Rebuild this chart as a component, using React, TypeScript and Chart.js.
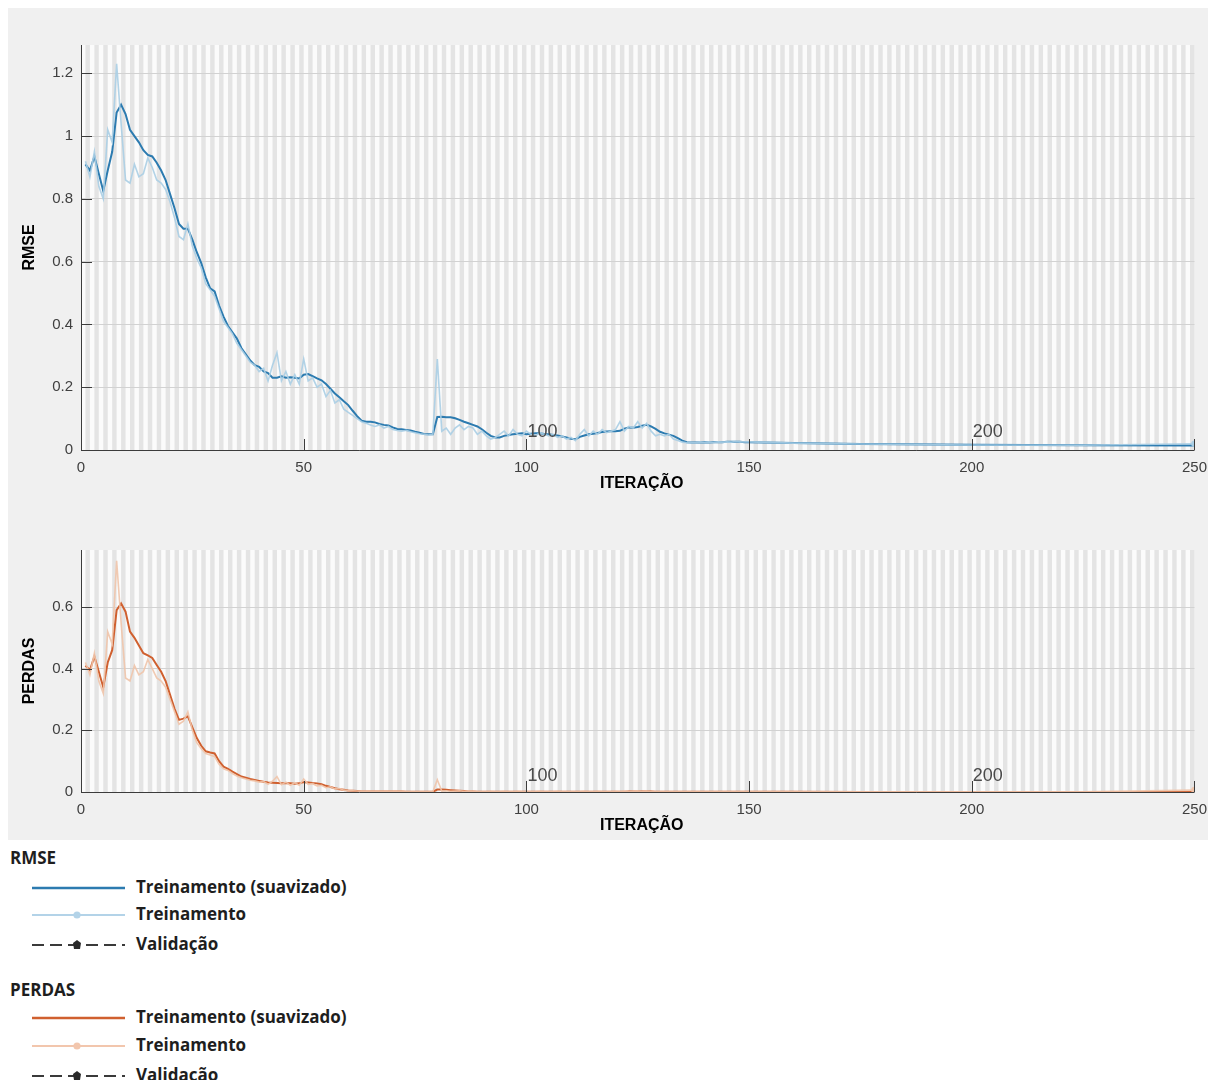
import { useEffect, useRef } from "react";
import { Chart, registerables } from "chart.js";

Chart.register(...registerables);

// Iterations sampled densely for 1..150, then sparsely along the flat tail.
const denseIterations = Array.from({ length: 150 }, (_, k) => k + 1);
const tailIterations = [160, 175, 200, 225, 250];
const iterations = [...denseIterations, ...tailIterations];

const xTicks = [0, 50, 100, 150, 200, 250];
const epochMarks = [100, 200];

const rmseTicks = [0, 0.2, 0.4, 0.6, 0.8, 1, 1.2];
const rmseTickLabels = ["0", "0.2", "0.4", "0.6", "0.8", "1", "1.2"];
const lossTicks = [0, 0.2, 0.4, 0.6];
const lossTickLabels = ["0", "0.2", "0.4", "0.6"];

// RMSE – smoothed training curve
const rmseSmoothed = [
  0.91, 0.89, 0.935, 0.88, 0.825, 0.89, 0.95, 1.075, 1.1, 1.07,
  1.02, 1.0, 0.98, 0.955, 0.94, 0.935, 0.915, 0.89, 0.86, 0.815,
  0.77, 0.72, 0.705, 0.705, 0.67, 0.63, 0.595, 0.55, 0.515, 0.505,
  0.46, 0.425, 0.395, 0.375, 0.355, 0.325, 0.305, 0.285, 0.27, 0.265,
  0.25, 0.245, 0.23, 0.23, 0.235, 0.23, 0.232, 0.23, 0.228, 0.24,
  0.242, 0.235, 0.228, 0.222, 0.21, 0.195, 0.18, 0.168, 0.155, 0.143,
  0.125, 0.108, 0.093, 0.09, 0.09, 0.088, 0.083, 0.08, 0.078, 0.072,
  0.067, 0.066, 0.064, 0.062, 0.058, 0.055, 0.051, 0.05, 0.05, 0.105,
  0.106, 0.104, 0.104, 0.101, 0.096, 0.09, 0.085, 0.08, 0.075, 0.066,
  0.055, 0.045, 0.04, 0.04, 0.045, 0.048, 0.05, 0.052, 0.053, 0.05,
  0.052, 0.053, 0.053, 0.051, 0.05, 0.048, 0.046, 0.043, 0.04, 0.036,
  0.034, 0.042, 0.046, 0.05, 0.052, 0.054, 0.057, 0.059, 0.06, 0.06,
  0.061, 0.068, 0.072, 0.071, 0.073, 0.077, 0.08, 0.075, 0.067, 0.058,
  0.053, 0.049, 0.045, 0.038, 0.03, 0.025, 0.024, 0.024, 0.024, 0.025,
  0.024, 0.025, 0.025, 0.025, 0.026, 0.026, 0.026, 0.026, 0.025, 0.025,
  0.022, 0.019, 0.017, 0.015, 0.014,
];

// RMSE – raw training values
const rmseRaw = [
  0.92, 0.87, 0.95, 0.84, 0.8, 1.02, 0.98, 1.23, 1.04, 0.86,
  0.85, 0.91, 0.87, 0.88, 0.93, 0.9, 0.86, 0.85, 0.83, 0.79,
  0.74, 0.68, 0.67, 0.72, 0.65, 0.61, 0.58, 0.53, 0.51, 0.49,
  0.45, 0.41, 0.39, 0.37, 0.34, 0.32, 0.3, 0.28, 0.27, 0.25,
  0.26, 0.22, 0.27, 0.31, 0.22, 0.25, 0.21, 0.24, 0.21, 0.29,
  0.22, 0.23, 0.2, 0.21, 0.17, 0.19, 0.15, 0.16, 0.13, 0.12,
  0.11, 0.1, 0.09, 0.085, 0.08, 0.075, 0.08, 0.07, 0.075, 0.065,
  0.062, 0.06, 0.063, 0.058, 0.055, 0.052, 0.05, 0.048, 0.05, 0.29,
  0.06, 0.07, 0.05, 0.07, 0.08, 0.065, 0.075, 0.07, 0.05, 0.06,
  0.045, 0.035, 0.04, 0.05, 0.06, 0.045, 0.065, 0.05, 0.045, 0.06,
  0.05, 0.045, 0.055, 0.05, 0.045, 0.05, 0.04, 0.045, 0.035, 0.04,
  0.03, 0.05, 0.065, 0.045, 0.06, 0.05, 0.065, 0.055, 0.06, 0.065,
  0.09, 0.06, 0.075, 0.07, 0.09, 0.07, 0.085, 0.06, 0.045, 0.05,
  0.045, 0.05, 0.035, 0.03, 0.025, 0.023, 0.024, 0.023, 0.025, 0.024,
  0.025, 0.024, 0.026, 0.025, 0.026, 0.025, 0.027, 0.026, 0.026, 0.026,
  0.022, 0.019, 0.016, 0.015, 0.02,
];

// Loss – smoothed training curve
const lossSmoothed = [
  0.41, 0.395, 0.44, 0.39, 0.34, 0.42, 0.46, 0.59, 0.612, 0.585,
  0.52, 0.5, 0.475, 0.45, 0.443, 0.435, 0.412, 0.39, 0.36, 0.315,
  0.27, 0.234, 0.238, 0.245, 0.21, 0.175, 0.15, 0.132, 0.128, 0.125,
  0.1, 0.082, 0.075, 0.066, 0.058, 0.05, 0.046, 0.042, 0.039, 0.036,
  0.033, 0.031, 0.03, 0.029, 0.028, 0.028, 0.028, 0.027, 0.028, 0.032,
  0.031, 0.029, 0.028, 0.025, 0.02, 0.016, 0.012, 0.009, 0.007, 0.005,
  0.004, 0.003, 0.002, 0.002, 0.002, 0.002, 0.002, 0.002, 0.002, 0.002,
  0.002, 0.002, 0.001, 0.001, 0.001, 0.001, 0.001, 0.001, 0.001, 0.008,
  0.008, 0.007, 0.006, 0.005, 0.004, 0.003, 0.002, 0.002, 0.001, 0.001,
  0.001, 0.001, 0.001, 0.001, 0.001, 0.001, 0.001, 0.001, 0.001, 0.001,
  0.001, 0.001, 0.001, 0.001, 0.001, 0.001, 0.001, 0.001, 0.001, 0.001,
  0.001, 0.001, 0.001, 0.001, 0.001, 0.001, 0.001, 0.001, 0.001, 0.001,
  0.001, 0.001, 0.002, 0.002, 0.002, 0.002, 0.002, 0.002, 0.001, 0.001,
  0.001, 0.001, 0.001, 0.001, 0.0008, 0.0006, 0.0005, 0.0005, 0.0005, 0.0005,
  0.0005, 0.0005, 0.0005, 0.0005, 0.0005, 0.0005, 0.0005, 0.0005, 0.0005, 0.0005,
  0.0005, 0.0004, 0.0004, 0.0003, 0.0003,
];

// Loss – raw training values
const lossRaw = [
  0.42, 0.38, 0.45, 0.36, 0.32, 0.52, 0.48, 0.75, 0.55, 0.37,
  0.36, 0.41, 0.38, 0.39, 0.43, 0.4, 0.37, 0.36, 0.34, 0.3,
  0.26, 0.22, 0.23, 0.26, 0.2, 0.16, 0.14, 0.125, 0.12, 0.115,
  0.09, 0.075, 0.07, 0.06, 0.052, 0.046, 0.042, 0.038, 0.036, 0.032,
  0.034, 0.025, 0.035, 0.05, 0.024, 0.032, 0.022, 0.03, 0.022, 0.042,
  0.025, 0.027, 0.02, 0.022, 0.014, 0.017, 0.01, 0.011, 0.006, 0.005,
  0.004, 0.003, 0.002, 0.002, 0.002, 0.002, 0.002, 0.002, 0.002, 0.002,
  0.002, 0.002, 0.001, 0.001, 0.001, 0.001, 0.001, 0.001, 0.001, 0.04,
  0.003, 0.004, 0.002, 0.003, 0.004, 0.002, 0.003, 0.002, 0.001, 0.001,
  0.001, 0.002, 0.001, 0.001, 0.002, 0.001, 0.001, 0.002, 0.001, 0.001,
  0.001, 0.001, 0.002, 0.001, 0.001, 0.001, 0.002, 0.001, 0.001, 0.001,
  0.001, 0.001, 0.002, 0.001, 0.001, 0.002, 0.001, 0.001, 0.001, 0.002,
  0.001, 0.003, 0.001, 0.002, 0.003, 0.001, 0.002, 0.001, 0.001, 0.001,
  0.001, 0.001, 0.001, 0.001, 0.0008, 0.0006, 0.0005, 0.0005, 0.0005, 0.0005,
  0.0005, 0.0005, 0.0005, 0.0005, 0.0005, 0.0005, 0.0005, 0.0005, 0.0005, 0.0005,
  0.0005, 0.0004, 0.0004, 0.0003, 0.006,
];

const TICK_FONT = { family: "'Liberation Sans', Arial, sans-serif", size: 15 };
const TITLE_FONT = "bold 16px 'Liberation Sans', Arial, sans-serif";
const EPOCH_FONT = "18px 'Liberation Sans', Arial, sans-serif";

type PlotProps = {
  smoothed: number[];
  raw: number[];
  smoothColor: string;
  rawColor: string;
  yMax: number;
  yTicks: number[];
  yTickLabels: string[];
  yTitle: string;
  height: number;
  padTop: number;
  axisHeight: number;
  epochLabelLift: number;
};

// Alternating iteration shading, inward ticks, axis lines and titles.
const decorPlugin = {
  id: "decor",
  beforeDraw(chart: any) {
    const { ctx, chartArea: a, scales } = chart;
    const x = scales.x;
    ctx.save();
    ctx.fillStyle = "#fbfbfb";
    ctx.fillRect(a.left, a.top, a.right - a.left, a.bottom - a.top);
    ctx.fillStyle = "#e4e4e4";
    for (let i = 1; i < x.max; i += 2) {
      const l = x.getPixelForValue(i);
      const r = x.getPixelForValue(i + 1);
      ctx.fillRect(l, a.top, r - l, a.bottom - a.top);
    }
    ctx.restore();
  },
  afterDraw(chart: any, _args: any, opts: any) {
    const { ctx, chartArea: a, scales } = chart;
    const x = scales.x;
    const y = scales.y;
    ctx.save();
    // axis lines
    ctx.strokeStyle = "#3c3c3c";
    ctx.lineWidth = 1;
    ctx.beginPath();
    ctx.moveTo(a.left + 0.5, a.top);
    ctx.lineTo(a.left + 0.5, a.bottom + 0.5);
    ctx.lineTo(a.right, a.bottom + 0.5);
    ctx.stroke();
    // inward tick marks
    ctx.beginPath();
    for (const v of xTicks) {
      const px = Math.round(x.getPixelForValue(v)) + 0.5;
      ctx.moveTo(px, a.bottom);
      ctx.lineTo(px, a.bottom - 11);
    }
    for (const v of opts.yTicks) {
      const py = Math.round(y.getPixelForValue(v)) + 0.5;
      ctx.moveTo(a.left, py);
      ctx.lineTo(a.left + 11, py);
    }
    ctx.stroke();
    // epoch labels
    ctx.fillStyle = "#4a4a4a";
    ctx.font = EPOCH_FONT;
    ctx.textAlign = "left";
    ctx.textBaseline = "alphabetic";
    for (const v of epochMarks) {
      ctx.fillText(String(v), x.getPixelForValue(v) + 1, a.bottom - opts.epochLabelLift);
    }
    // axis titles
    ctx.fillStyle = "#000";
    ctx.font = TITLE_FONT;
    ctx.textAlign = "center";
    ctx.textBaseline = "middle";
    ctx.fillText("ITERAÇÃO", (a.left + a.right) / 2 + 4, a.bottom + 34);
    ctx.translate(22, (a.top + a.bottom) / 2);
    ctx.rotate(-Math.PI / 2);
    ctx.fillText(opts.yTitle, 0, 0);
    ctx.restore();
  },
};

function TrainingPlot(p: PlotProps) {
  const ref = useRef<HTMLCanvasElement>(null);
  useEffect(() => {
    const lastIndex = iterations.length - 1;
    const chart = new Chart(ref.current!, {
      type: "line",
      data: {
        datasets: [
          {
            label: "Treinamento",
            data: iterations.map((it, i) => ({ x: it, y: p.raw[i] })),
            borderColor: p.rawColor,
            backgroundColor: p.rawColor,
            borderWidth: 1.6,
            pointRadius: (c: any) => (c.dataIndex === lastIndex ? 2.5 : 0),
            tension: 0,
          },
          {
            label: "Treinamento (suavizado)",
            data: iterations.map((it, i) => ({ x: it, y: p.smoothed[i] })),
            borderColor: p.smoothColor,
            borderWidth: 2,
            pointRadius: 0,
            tension: 0,
          },
        ],
      },
      options: {
        responsive: false,
        animation: false,
        events: [],
        layout: { padding: { left: 0, right: 21, top: p.padTop, bottom: 0 } },
        plugins: {
          legend: { display: false },
          tooltip: { enabled: false },
          decor: { yTicks: p.yTicks, yTitle: p.yTitle, epochLabelLift: p.epochLabelLift },
        } as any,
        scales: {
          x: {
            type: "linear",
            min: 0,
            max: 250,
            afterBuildTicks: (s: any) => {
              s.ticks = xTicks.map((v) => ({ value: v }));
            },
            afterFit: (s: any) => {
              s.height = p.axisHeight;
            },
            ticks: {
              font: TICK_FONT,
              color: "#404040",
              padding: 9,
              maxRotation: 0,
              autoSkip: false,
              callback: (v: any) => String(v),
            },
            grid: { display: false, drawTicks: false },
            border: { display: false },
          },
          y: {
            min: 0,
            max: p.yMax,
            afterBuildTicks: (s: any) => {
              s.ticks = p.yTicks.map((v) => ({ value: v }));
            },
            afterFit: (s: any) => {
              s.width = 73;
            },
            ticks: {
              font: TICK_FONT,
              color: "#404040",
              padding: 8,
              callback: (_v: any, i: number) => p.yTickLabels[i],
            },
            grid: { color: "#d2d2d2", lineWidth: 1, drawTicks: false },
            border: { display: false },
          },
        },
      },
      plugins: [decorPlugin],
    });
    return () => chart.destroy();
  }, []);
  return <canvas ref={ref} width={1208} height={p.height} style={{ display: "block", width: 1208, height: p.height }} />;
}

const LEGEND_FONT = "'Open Sans', 'Noto Sans', sans-serif";

function LegendGlyph({ kind, color }: { kind: "smooth" | "raw" | "valid"; color: string }) {
  return (
    <svg width={110} height={14} style={{ position: "absolute", left: 18, top: -7 }}>
      {kind === "smooth" && <line x1={6} y1={7} x2={99} y2={7} stroke={color} strokeWidth={2.4} />}
      {kind === "raw" && (
        <g>
          <line x1={6} y1={7} x2={99} y2={7} stroke={color} strokeWidth={2} />
          <circle cx={51} cy={7} r={3.6} fill={color} />
        </g>
      )}
      {kind === "valid" && (
        <g>
          <line x1={6} y1={7} x2={99} y2={7} stroke="#3a3a3a" strokeWidth={2} strokeDasharray="12 6" />
          <path d="M47 5 L51 2 L55 5 L54 11 L48 11 Z" fill="#2a2a2a" />
        </g>
      )}
    </svg>
  );
}

function LegendRow({ top, kind, color, text }: { top: number; kind: "smooth" | "raw" | "valid"; color: string; text: string }) {
  return (
    <div style={{ position: "absolute", left: 0, top, width: 400, height: 0 }}>
      <LegendGlyph kind={kind} color={color} />
      <span
        style={{
          position: "absolute",
          left: 128,
          top: -13,
          lineHeight: "24px",
          font: `bold 17px ${LEGEND_FONT}`,
          color: "#1e1e1e",
          whiteSpace: "nowrap",
        }}
      >
        {text}
      </span>
    </div>
  );
}

function LegendHeader({ top, text }: { top: number; text: string }) {
  return (
    <div
      style={{
        position: "absolute",
        left: 2,
        top: top - 13,
        lineHeight: "24px",
        font: `bold 17px ${LEGEND_FONT}`,
        color: "#1e1e1e",
      }}
    >
      {text}
    </div>
  );
}

export default function App() {
  return (
    <div style={{ width: 1208 }}>
      <div style={{ position: "relative", width: 1208, height: 832, background: "#f0f0f0" }}>
        <div style={{ position: "absolute", left: 0, top: 0 }}>
          <TrainingPlot
            smoothed={rmseSmoothed}
            raw={rmseRaw}
            smoothColor="#2c7bb0"
            rawColor="rgba(170,206,228,0.9)"
            yMax={1.29}
            yTicks={rmseTicks}
            yTickLabels={rmseTickLabels}
            yTitle="RMSE"
            height={500}
            padTop={37}
            axisHeight={58}
            epochLabelLift={13}
          />
        </div>
        <div style={{ position: "absolute", left: 0, top: 500 }}>
          <TrainingPlot
            smoothed={lossSmoothed}
            raw={lossRaw}
            smoothColor="#d0602f"
            rawColor="rgba(240,196,170,0.9)"
            yMax={0.785}
            yTicks={lossTicks}
            yTickLabels={lossTickLabels}
            yTitle="PERDAS"
            height={332}
            padTop={42}
            axisHeight={48}
            epochLabelLift={11}
          />
        </div>
      </div>
      <div style={{ position: "relative", width: 1208, height: 240, background: "#fff" }}>
        <LegendHeader top={19} text="RMSE" />
        <LegendRow top={48} kind="smooth" color="#2c7bb0" text="Treinamento (suavizado)" />
        <LegendRow top={75} kind="raw" color="#b3d3e8" text="Treinamento" />
        <LegendRow top={105} kind="valid" color="#333" text="Validação" />
        <LegendHeader top={151} text="PERDAS" />
        <LegendRow top={178} kind="smooth" color="#d0602f" text="Treinamento (suavizado)" />
        <LegendRow top={206} kind="raw" color="#f2c6ad" text="Treinamento" />
        <LegendRow top={236} kind="valid" color="#333" text="Validação" />
      </div>
    </div>
  );
}
